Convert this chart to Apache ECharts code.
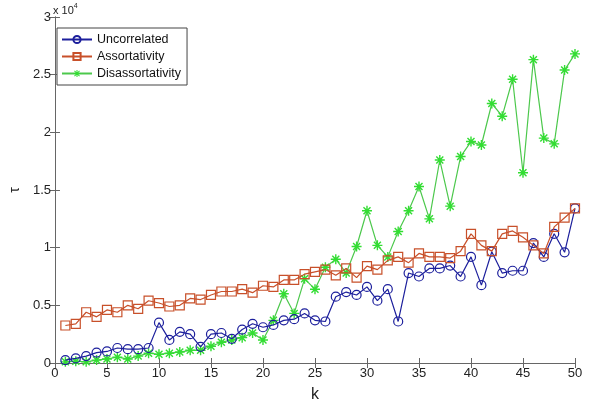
<!DOCTYPE html>
<html>
<head>
<meta charset="utf-8">
<script src="https://cdn.jsdelivr.net/npm/echarts@6/dist/echarts.min.js"></script>
<style>
  html, body { margin: 0; padding: 0; background: #fff; }
  #chart { width: 596px; height: 408px; }
</style>
</head>
<body>
<div id="chart"></div>
<script>
// k = 1..50, values in units of 1e4
const ks = [1,2,3,4,5,6,7,8,9,10,11,12,13,14,15,16,17,18,19,20,21,22,23,24,25,
  26,27,28,29,30,31,32,33,34,35,36,37,38,39,40,41,42,43,44,45,46,47,48,49,50];
const uncorrelated = [0.025,0.04,0.06,0.09,0.10,0.13,0.12,0.12,0.13,0.35,
  0.20,0.27,0.25,0.14,0.25,0.26,0.21,0.29,0.34,0.31,
  0.33,0.37,0.38,0.43,0.37,0.36,0.575,0.615,0.59,0.66,
  0.54,0.64,0.36,0.78,0.75,0.82,0.82,0.845,0.75,0.92,
  0.675,0.965,0.78,0.80,0.80,1.04,0.92,1.12,0.96,1.34];
const assortativity = [0.325,0.34,0.44,0.40,0.46,0.44,0.50,0.47,0.54,0.52,
  0.49,0.50,0.56,0.55,0.59,0.62,0.62,0.64,0.61,0.67,
  0.66,0.72,0.72,0.77,0.79,0.81,0.76,0.82,0.74,0.84,
  0.81,0.89,0.92,0.87,0.95,0.92,0.92,0.91,0.97,1.12,
  1.02,0.97,1.12,1.145,1.09,1.02,0.95,1.18,1.26,1.34];
const disassortativity = [0.01,0.015,0.01,0.025,0.035,0.05,0.035,0.06,0.085,0.075,
  0.085,0.095,0.11,0.11,0.145,0.18,0.20,0.22,0.26,0.20,
  0.37,0.60,0.43,0.73,0.64,0.83,0.90,0.78,1.01,1.32,
  1.02,0.92,1.14,1.32,1.53,1.25,1.76,1.36,1.79,1.92,
  1.89,2.25,2.14,2.46,1.65,2.63,1.95,1.90,2.54,2.68];
const xTicks = [0,5,10,15,20,25,30,35,40,45,50];
const yTicks = [0,0.5,1,1.5,2,2.5,3];

const font = 'Liberation Sans, Arial, sans-serif';
const axisGray = '#666';
// MATLAB-style asterisk marker
const star = 'path://M4.3,0L5.7,0L5.7,10L4.3,10Z M0,4.3L10,4.3L10,5.7L0,5.7Z M1,2L2,1L9,8L8,9Z M8,1L9,2L2,9L1,8Z';

function pairs(vals) {
  return ks.map((k, i) => [k, vals[i]]);
}

const chart = echarts.init(document.getElementById('chart'));

const baseAxis = {
  axisLine: { lineStyle: { color: axisGray, width: 1 } },
  axisTick: { inside: true, length: 5, lineStyle: { color: axisGray } },
  splitLine: { show: false }
};

const option = {
  backgroundColor: '#fff',
  animation: false,
  textStyle: { fontFamily: font },
  grid: { left: 51, right: 21, top: 17, bottom: 41 },
  legend: {
    orient: 'vertical',
    left: 57, top: 28,
    backgroundColor: '#fff',
    borderColor: '#444', borderWidth: 1,
    padding: [5, 6, 5, 4],
    itemGap: 4,
    itemWidth: 30, itemHeight: 9,
    textStyle: { fontFamily: font, fontSize: 12.5, color: '#111' },
    data: ['Uncorrelated', 'Assortativity', 'Disassortativity']
  },
  xAxis: [
    Object.assign({}, baseAxis, {
      type: 'value', min: xTicks[0], max: xTicks[xTicks.length - 1], interval: 5,
      name: 'k', nameLocation: 'middle', nameGap: 24,
      nameTextStyle: { fontSize: 16, color: '#222', fontFamily: font },
      axisLabel: { fontSize: 13, color: '#222', margin: 4 }
    }),
    Object.assign({}, baseAxis, {
      type: 'value', position: 'top', min: 0, max: 50, interval: 5,
      axisLabel: { show: false }
    })
  ],
  yAxis: [
    Object.assign({}, baseAxis, {
      type: 'value', min: yTicks[0], max: yTicks[yTicks.length - 1], interval: 0.5,
      name: 'τ', nameLocation: 'middle', nameGap: 19, nameRotate: 90,
      nameTextStyle: { fontSize: 14, color: '#222', fontFamily: font },
      axisLabel: { fontSize: 13, color: '#222', margin: 4,
        formatter: v => String(v) }
    }),
    Object.assign({}, baseAxis, {
      type: 'value', position: 'right', min: 0, max: 3, interval: 0.5,
      axisLabel: { show: false }
    })
  ],
  graphic: [{
    type: 'text', left: 53, top: 3,
    style: {
      text: '{a|x 10}{b|4}',
      rich: {
        a: { fontSize: 11, fontFamily: font, fill: '#222' },
        b: { fontSize: 7, fontFamily: font, fill: '#222', verticalAlign: 'top', padding: [0, 0, 8, 0] }
      }
    }
  }],
  series: [
    {
      name: 'Uncorrelated', type: 'line', data: pairs(uncorrelated),
      symbol: 'circle', symbolSize: 9,
      lineStyle: { color: '#1c1f9c', width: 1.2 },
      itemStyle: { color: 'rgba(255,255,255,0)', borderColor: '#1c1f9c', borderWidth: 1.2 },
      z: 3
    },
    {
      name: 'Assortativity', type: 'line', data: pairs(assortativity),
      symbol: 'rect', symbolSize: 9,
      lineStyle: { color: '#c8502a', width: 1.2 },
      itemStyle: { color: 'rgba(255,255,255,0)', borderColor: '#c8502a', borderWidth: 1.2 },
      z: 4
    },
    {
      name: 'Disassortativity', type: 'line', data: pairs(disassortativity),
      symbol: star, symbolSize: 10,
      lineStyle: { color: '#4cc84c', width: 1.2 },
      itemStyle: { color: '#33dd33' },
      z: 2
    }
  ]
};

chart.setOption(option);
</script>
</body>
</html>
